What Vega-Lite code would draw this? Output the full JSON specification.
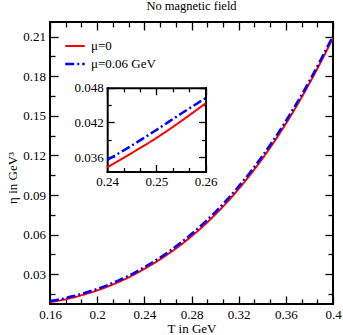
{
  "$schema": "https://vega.github.io/schema/vega-lite/v6.json",
  "width": 283,
  "height": 282,
  "autosize": "none",
  "padding": {"left": 50, "top": 22, "right": 10, "bottom": 31},
  "title": {"text": "No magnetic field", "font": "Liberation Serif", "fontSize": 12.5, "fontWeight": "normal", "color": "black", "offset": -1, "baseline": "alphabetic", "frame": "group", "anchor": "middle"},
  "config": {
    "view": {"stroke": "black", "strokeWidth": 2},
    "axis": {"grid": false, "domain": false, "labelFont": "Liberation Serif", "labelFontSize": 13, "labelColor": "black", "tickColor": "black", "tickWidth": 1.3, "labelFlush": false, "labelOverlap": false, "titleFont": "Liberation Serif", "titleFontSize": 13, "titleFontWeight": "normal", "titleColor": "black"}
  },
  "datasets": {
    "main": [
      {"T": 0.16, "eta": 0.0088, "series": "μ=0"},
      {"T": 0.17, "eta": 0.0104, "series": "μ=0"},
      {"T": 0.18, "eta": 0.0124, "series": "μ=0"},
      {"T": 0.19, "eta": 0.0149, "series": "μ=0"},
      {"T": 0.20, "eta": 0.0177, "series": "μ=0"},
      {"T": 0.21, "eta": 0.0210, "series": "μ=0"},
      {"T": 0.22, "eta": 0.0248, "series": "μ=0"},
      {"T": 0.23, "eta": 0.0291, "series": "μ=0"},
      {"T": 0.24, "eta": 0.0340, "series": "μ=0"},
      {"T": 0.25, "eta": 0.0393, "series": "μ=0"},
      {"T": 0.26, "eta": 0.0452, "series": "μ=0"},
      {"T": 0.27, "eta": 0.0516, "series": "μ=0"},
      {"T": 0.28, "eta": 0.0587, "series": "μ=0"},
      {"T": 0.29, "eta": 0.0665, "series": "μ=0"},
      {"T": 0.30, "eta": 0.0751, "series": "μ=0"},
      {"T": 0.31, "eta": 0.0844, "series": "μ=0"},
      {"T": 0.32, "eta": 0.0946, "series": "μ=0"},
      {"T": 0.33, "eta": 0.1056, "series": "μ=0"},
      {"T": 0.34, "eta": 0.1174, "series": "μ=0"},
      {"T": 0.35, "eta": 0.1302, "series": "μ=0"},
      {"T": 0.36, "eta": 0.1440, "series": "μ=0"},
      {"T": 0.37, "eta": 0.1588, "series": "μ=0"},
      {"T": 0.38, "eta": 0.1746, "series": "μ=0"},
      {"T": 0.39, "eta": 0.1914, "series": "μ=0"},
      {"T": 0.40, "eta": 0.2090, "series": "μ=0"},
      {"T": 0.16, "eta": 0.0096, "series": "μ=0.06 GeV"},
      {"T": 0.17, "eta": 0.0113, "series": "μ=0.06 GeV"},
      {"T": 0.18, "eta": 0.0134, "series": "μ=0.06 GeV"},
      {"T": 0.19, "eta": 0.0159, "series": "μ=0.06 GeV"},
      {"T": 0.20, "eta": 0.0188, "series": "μ=0.06 GeV"},
      {"T": 0.21, "eta": 0.0221, "series": "μ=0.06 GeV"},
      {"T": 0.22, "eta": 0.0260, "series": "μ=0.06 GeV"},
      {"T": 0.23, "eta": 0.0303, "series": "μ=0.06 GeV"},
      {"T": 0.24, "eta": 0.0353, "series": "μ=0.06 GeV"},
      {"T": 0.25, "eta": 0.0407, "series": "μ=0.06 GeV"},
      {"T": 0.26, "eta": 0.0466, "series": "μ=0.06 GeV"},
      {"T": 0.27, "eta": 0.0532, "series": "μ=0.06 GeV"},
      {"T": 0.28, "eta": 0.0604, "series": "μ=0.06 GeV"},
      {"T": 0.29, "eta": 0.0683, "series": "μ=0.06 GeV"},
      {"T": 0.30, "eta": 0.0769, "series": "μ=0.06 GeV"},
      {"T": 0.31, "eta": 0.0863, "series": "μ=0.06 GeV"},
      {"T": 0.32, "eta": 0.0965, "series": "μ=0.06 GeV"},
      {"T": 0.33, "eta": 0.1075, "series": "μ=0.06 GeV"},
      {"T": 0.34, "eta": 0.1194, "series": "μ=0.06 GeV"},
      {"T": 0.35, "eta": 0.1322, "series": "μ=0.06 GeV"},
      {"T": 0.36, "eta": 0.1460, "series": "μ=0.06 GeV"},
      {"T": 0.37, "eta": 0.1607, "series": "μ=0.06 GeV"},
      {"T": 0.38, "eta": 0.1764, "series": "μ=0.06 GeV"},
      {"T": 0.39, "eta": 0.1931, "series": "μ=0.06 GeV"},
      {"T": 0.40, "eta": 0.2106, "series": "μ=0.06 GeV"}
    ],
    "inset": [
      {"T": 0.24, "eta": 0.0342, "series": "μ=0"},
      {"T": 0.245, "eta": 0.0367, "series": "μ=0"},
      {"T": 0.25, "eta": 0.0393, "series": "μ=0"},
      {"T": 0.255, "eta": 0.0422, "series": "μ=0"},
      {"T": 0.26, "eta": 0.0453, "series": "μ=0"},
      {"T": 0.24, "eta": 0.0355, "series": "μ=0.06 GeV"},
      {"T": 0.245, "eta": 0.0380, "series": "μ=0.06 GeV"},
      {"T": 0.25, "eta": 0.0407, "series": "μ=0.06 GeV"},
      {"T": 0.255, "eta": 0.0435, "series": "μ=0.06 GeV"},
      {"T": 0.26, "eta": 0.0462, "series": "μ=0.06 GeV"}
    ]
  },
  "layer": [
    {
      "data": {"name": "main"},
      "layer": [
        {
          "mark": {"type": "line", "interpolate": "monotone", "clip": true},
          "encoding": {
            "x": {"field": "T", "type": "quantitative", "scale": {"domain": [0.16, 0.4], "nice": false, "zero": false},
              "axis": {"orient": "bottom", "values": [0.16, 0.2, 0.24, 0.28, 0.32, 0.36, 0.4], "tickSize": -8, "labelPadding": 12, "format": "~g", "title": "T in GeV", "titleY": 28, "titleBaseline": "alphabetic"}},
            "y": {"field": "eta", "type": "quantitative", "scale": {"domain": [0.0074, 0.2211], "nice": false, "zero": false},
              "axis": {"orient": "left", "values": [0.03, 0.06, 0.09, 0.12, 0.15, 0.18, 0.21], "tickSize": -8, "labelPadding": 12.5, "format": ".2f", "title": "η in GeV³", "titleX": -37.5, "titleY": 155.5, "titleBaseline": "middle", "titleAngle": -90}},
            "color": {"field": "series", "type": "nominal", "scale": {"domain": ["μ=0", "μ=0.06 GeV"], "range": ["#ff0000", "#0000ff"]},
              "legend": {"orient": "none", "legendX": 14, "legendY": 13, "title": null, "labelFont": "Liberation Serif", "labelFontSize": 13, "labelColor": "black", "symbolType": "stroke", "symbolSize": 380, "symbolStrokeWidth": 2.5, "labelOffset": 5, "rowPadding": -3, "padding": 0}},
            "strokeDash": {"field": "series", "type": "nominal", "scale": {"domain": ["μ=0", "μ=0.06 GeV"], "range": [[1, 0], [9, 3, 2, 3]]},
              "legend": {"orient": "none", "legendX": 14, "legendY": 13, "title": null, "labelFont": "Liberation Serif", "labelFontSize": 13, "labelColor": "black", "symbolType": "stroke", "symbolSize": 380, "symbolStrokeWidth": 2.5, "labelOffset": 5, "rowPadding": -3, "padding": 0}},
            "strokeWidth": {"field": "series", "type": "ordinal", "scale": {"domain": ["μ=0", "μ=0.06 GeV"], "range": [2, 2.5]}, "legend": null}
          }
        },
        {
          "mark": {"type": "point", "opacity": 0},
          "encoding": {
            "x": {"field": "T", "type": "quantitative", "scale": {"domain": [0.16, 0.4], "nice": false, "zero": false},
              "axis": {"orient": "bottom", "values": [0.173333, 0.186667, 0.213333, 0.226667, 0.253333, 0.266667, 0.293333, 0.306667, 0.333333, 0.346667, 0.373333, 0.386667], "tickSize": -5, "labels": false, "title": null}},
            "y": {"field": "eta", "type": "quantitative", "scale": {"domain": [0.0074, 0.2211], "nice": false, "zero": false},
              "axis": {"orient": "left", "values": [0.015, 0.045, 0.075, 0.105, 0.135, 0.165, 0.195], "tickSize": -5, "labels": false, "title": null}}
          }
        },
        {
          "mark": {"type": "point", "opacity": 0},
          "encoding": {
            "x": {"field": "T", "type": "quantitative", "scale": {"domain": [0.16, 0.4], "nice": false, "zero": false},
              "axis": {"orient": "top", "values": [0.16, 0.2, 0.24, 0.28, 0.32, 0.36, 0.4], "tickSize": -8, "labels": false, "title": null}},
            "y": {"field": "eta", "type": "quantitative", "scale": {"domain": [0.0074, 0.2211], "nice": false, "zero": false},
              "axis": {"orient": "right", "values": [0.03, 0.06, 0.09, 0.12, 0.15, 0.18, 0.21], "tickSize": -8, "labels": false, "title": null}}
          }
        },
        {
          "mark": {"type": "point", "opacity": 0},
          "encoding": {
            "x": {"field": "T", "type": "quantitative", "scale": {"domain": [0.16, 0.4], "nice": false, "zero": false},
              "axis": {"orient": "top", "values": [0.173333, 0.186667, 0.213333, 0.226667, 0.253333, 0.266667, 0.293333, 0.306667, 0.333333, 0.346667, 0.373333, 0.386667], "tickSize": -5, "labels": false, "title": null}},
            "y": {"field": "eta", "type": "quantitative", "scale": {"domain": [0.0074, 0.2211], "nice": false, "zero": false},
              "axis": {"orient": "right", "values": [0.015, 0.045, 0.075, 0.105, 0.135, 0.165, 0.195], "tickSize": -5, "labels": false, "title": null}}
          }
        }
      ],
      "resolve": {"axis": {"x": "independent", "y": "independent"}}
    },
    {
      "data": {"name": "inset"},
      "layer": [
        {
          "mark": {"type": "line", "interpolate": "monotone", "clip": false},
          "encoding": {
            "x": {"field": "T", "type": "quantitative", "scale": {"domain": [0.24, 0.26], "range": [57.2, 155.5], "nice": false, "zero": false},
              "axis": {"orient": "bottom", "offset": -132.5, "values": [0.24, 0.25, 0.26], "tickSize": -7, "labelPadding": 11, "format": ".2f", "title": null, "domain": true, "domainWidth": 2, "domainColor": "black", "domainCap": "square"}},
            "y": {"field": "eta", "type": "quantitative", "scale": {"domain": [0.0335, 0.048], "range": [149.5, 65.8], "nice": false, "zero": false},
              "axis": {"orient": "left", "offset": -57.2, "values": [0.036, 0.042, 0.048], "tickSize": -7, "labelPadding": 11, "format": ".3f", "title": null, "domain": true, "domainWidth": 2, "domainColor": "black", "domainCap": "square"}},
            "color": {"field": "series", "type": "nominal", "scale": {"domain": ["μ=0", "μ=0.06 GeV"], "range": ["#ff0000", "#0000ff"]}},
            "strokeDash": {"field": "series", "type": "nominal", "scale": {"domain": ["μ=0", "μ=0.06 GeV"], "range": [[1, 0], [9, 3, 2, 3]]}},
            "strokeWidth": {"field": "series", "type": "ordinal", "scale": {"domain": ["μ=0", "μ=0.06 GeV"], "range": [2, 2.5]}, "legend": null}
          }
        },
        {
          "mark": {"type": "point", "opacity": 0},
          "encoding": {
            "x": {"field": "T", "type": "quantitative", "scale": {"domain": [0.24, 0.26], "range": [57.2, 155.5], "nice": false, "zero": false},
              "axis": {"orient": "bottom", "offset": -132.5, "values": [0.243333, 0.246667, 0.253333, 0.256667], "tickSize": -4, "labels": false, "title": null}},
            "y": {"field": "eta", "type": "quantitative", "scale": {"domain": [0.0335, 0.048], "range": [149.5, 65.8], "nice": false, "zero": false},
              "axis": {"orient": "left", "offset": -57.2, "values": [0.039, 0.045], "tickSize": -4, "labels": false, "title": null}}
          }
        },
        {
          "mark": {"type": "point", "opacity": 0},
          "encoding": {
            "x": {"field": "T", "type": "quantitative", "scale": {"domain": [0.24, 0.26], "range": [57.2, 155.5], "nice": false, "zero": false},
              "axis": {"orient": "top", "offset": -65.8, "values": [0.24, 0.25, 0.26], "tickSize": -7, "labels": false, "title": null, "domain": true, "domainWidth": 2, "domainColor": "black", "domainCap": "square"}},
            "y": {"field": "eta", "type": "quantitative", "scale": {"domain": [0.0335, 0.048], "range": [149.5, 65.8], "nice": false, "zero": false},
              "axis": {"orient": "right", "offset": -127.5, "values": [0.036, 0.042, 0.048], "tickSize": -7, "labels": false, "title": null, "domain": true, "domainWidth": 2, "domainColor": "black", "domainCap": "square"}}
          }
        },
        {
          "mark": {"type": "point", "opacity": 0},
          "encoding": {
            "x": {"field": "T", "type": "quantitative", "scale": {"domain": [0.24, 0.26], "range": [57.2, 155.5], "nice": false, "zero": false},
              "axis": {"orient": "top", "offset": -65.8, "values": [0.243333, 0.246667, 0.253333, 0.256667], "tickSize": -4, "labels": false, "title": null}},
            "y": {"field": "eta", "type": "quantitative", "scale": {"domain": [0.0335, 0.048], "range": [149.5, 65.8], "nice": false, "zero": false},
              "axis": {"orient": "right", "offset": -127.5, "values": [0.039, 0.045], "tickSize": -4, "labels": false, "title": null}}
          }
        }
      ],
      "resolve": {"axis": {"x": "independent", "y": "independent"}}
    }
  ],
  "resolve": {"scale": {"x": "independent", "y": "independent"}, "axis": {"x": "independent", "y": "independent"}}
}
